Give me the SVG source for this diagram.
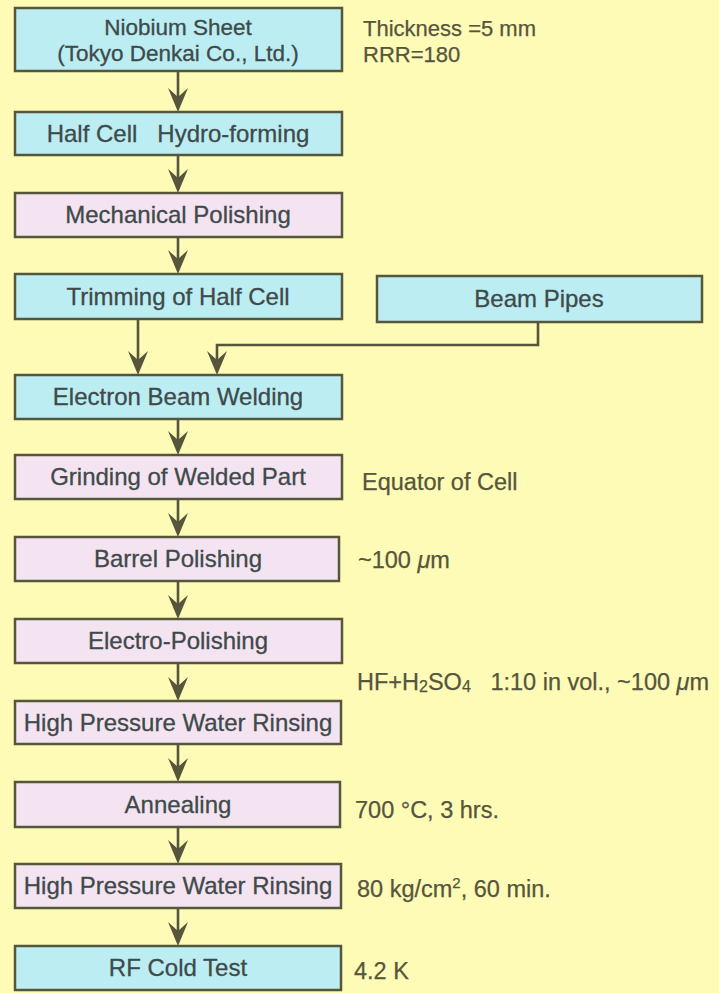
<svg xmlns="http://www.w3.org/2000/svg" width="719" height="993" viewBox="0 0 719 993">
<style>
.bg{fill:#fdfbb6}
.box{stroke:#56563c;stroke-width:2.5}
.c{fill:#bbedf2}
.p{fill:#f4e3f0}
.t{font-family:"Liberation Sans",Arial,sans-serif;font-size:24px;fill:#3f4a4a;stroke:#3f4a4a;stroke-width:0.3;text-anchor:middle}
.t2{font-size:22.5px}
.s{font-family:"Liberation Sans",Arial,sans-serif;font-size:23.5px;fill:#56553d;stroke:#56553d;stroke-width:0.25}
.s2{font-size:22px}
.ln{fill:none;stroke:#56563c;stroke-width:2.6}
</style>
<defs>
<marker id="ah" markerUnits="userSpaceOnUse" viewBox="-25 -11 26 22" refX="-15" refY="0" markerWidth="26" markerHeight="22" orient="auto">
<path d="M0,0 L-24,-10 L-15,0 L-24,10 Z" fill="#56563c"/>
</marker>
</defs>
<rect class="bg" x="0" y="0" width="719" height="993"/>

<g id="connectors">
<path class="ln" marker-end="url(#ah)" d="M178,71 V97"/>
<path class="ln" marker-end="url(#ah)" d="M178,155 V178"/>
<path class="ln" marker-end="url(#ah)" d="M178,237 V259"/>
<path class="ln" marker-end="url(#ah)" d="M138,319 V360"/>
<path class="ln" marker-end="url(#ah)" d="M538,322 V345 H217 V360"/>
<path class="ln" marker-end="url(#ah)" d="M178,419 V440"/>
<path class="ln" marker-end="url(#ah)" d="M178,499 V522"/>
<path class="ln" marker-end="url(#ah)" d="M178,581 V604"/>
<path class="ln" marker-end="url(#ah)" d="M178,663 V686"/>
<path class="ln" marker-end="url(#ah)" d="M178,744 V767"/>
<path class="ln" marker-end="url(#ah)" d="M178,827 V849"/>
<path class="ln" marker-end="url(#ah)" d="M178,908 V931"/>
</g>

<g id="niobium">
<rect class="box c" x="15" y="8" width="327" height="63"/>
<text class="t t2" x="178" y="35">Niobium Sheet</text>
<text class="t t2" x="178" y="61">(Tokyo Denkai Co., Ltd.)</text>
<text class="s s2" x="363" y="36">Thickness =5 mm</text>
<text class="s s2" x="363" y="62">RRR=180</text>
</g>

<g id="halfcell">
<rect class="box c" x="15" y="112" width="327" height="43"/>
<text class="t" x="178" y="142" xml:space="preserve">Half Cell   Hydro-forming</text>
</g>

<g id="mech">
<rect class="box p" x="15" y="193" width="327" height="44"/>
<text class="t" x="178" y="223">Mechanical Polishing</text>
</g>

<g id="trimming">
<rect class="box c" x="15" y="274" width="327" height="45"/>
<text class="t" x="178" y="305">Trimming of Half Cell</text>
</g>

<g id="beampipes">
<rect class="box c" x="377" y="276" width="325" height="46"/>
<text class="t" x="539" y="307">Beam Pipes</text>
</g>

<g id="ebw">
<rect class="box c" x="15" y="375" width="327" height="44"/>
<text class="t" x="178" y="405">Electron Beam Welding</text>
</g>

<g id="grinding">
<rect class="box p" x="15" y="455" width="327" height="44"/>
<text class="t" x="178" y="485">Grinding of Welded Part</text>
<text class="s" x="362" y="490">Equator of Cell</text>
</g>

<g id="barrel">
<rect class="box p" x="15" y="537" width="324" height="44"/>
<text class="t" x="178" y="567">Barrel Polishing</text>
<text class="s" x="358" y="568">~100 <tspan font-style="italic">μ</tspan>m</text>
</g>

<g id="electro">
<rect class="box p" x="15" y="619" width="327" height="44"/>
<text class="t" x="178" y="649">Electro-Polishing</text>
<text class="s" x="357" y="690" xml:space="preserve">HF+H<tspan font-size="16" dy="2">2</tspan><tspan dy="-2">SO</tspan><tspan font-size="16" dy="2">4</tspan><tspan dy="-2">   1:10 in vol., ~100 </tspan><tspan font-style="italic">μ</tspan>m</text>
</g>

<g id="hpwr1">
<rect class="box p" x="15" y="701" width="326" height="43"/>
<text class="t" x="178" y="731">High Pressure Water Rinsing</text>
</g>

<g id="annealing">
<rect class="box p" x="15" y="782" width="325" height="45"/>
<text class="t" x="178" y="813">Annealing</text>
<text class="s" x="355" y="818">700 °C, 3 hrs.</text>
</g>

<g id="hpwr2">
<rect class="box p" x="15" y="864" width="326" height="44"/>
<text class="t" x="178" y="894">High Pressure Water Rinsing</text>
<text class="s" x="357" y="897">80 kg/cm<tspan font-size="15" dy="-9">2</tspan><tspan dy="9">, 60 min.</tspan></text>
</g>

<g id="rftest">
<rect class="box c" x="15" y="946" width="326" height="44"/>
<text class="t" x="178" y="976">RF Cold Test</text>
<text class="s" x="354" y="979">4.2 K</text>
</g>
</svg>
